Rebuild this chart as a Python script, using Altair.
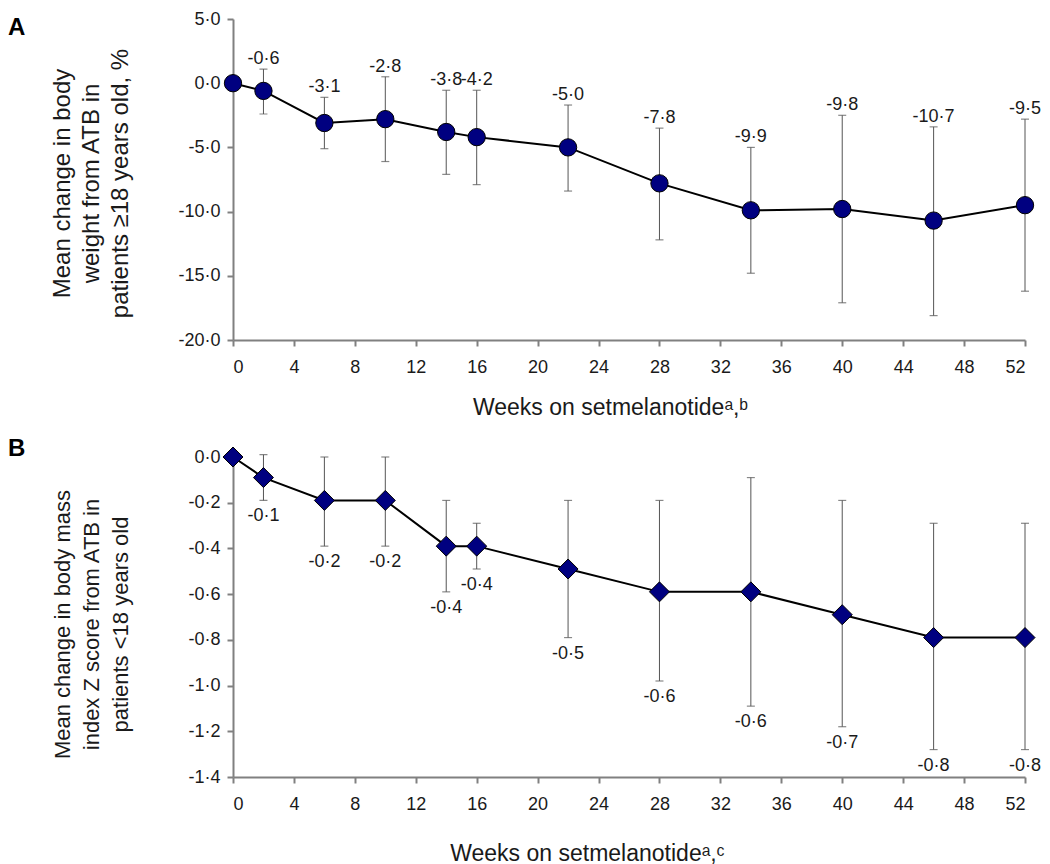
import altair as alt
import pandas as pd

# ---------------- data ----------------
weeks = [0, 2, 6, 10, 14, 16, 22, 28, 34, 40, 46, 52]

# Panel A: mean % change in body weight (patients >=18 y)
a_mean = [0.0, -0.6, -3.1, -2.8, -3.8, -4.2, -5.0, -7.8, -9.9, -9.8, -10.7, -9.5]
a_upper = [None, 1.1, -1.1, 0.5, -0.55, -0.55, -1.7, -3.5, -5.0, -2.5, -3.4, -2.8]
a_lower = [None, -2.4, -5.1, -6.1, -7.1, -7.9, -8.4, -12.2, -14.8, -17.1, -18.1, -16.2]
a_labels = ["", "-0·6", "-3·1", "-2·8", "-3·8", "-4·2", "-5·0", "-7·8", "-9·9", "-9·8", "-10·7", "-9·5"]

# Panel B: mean change in BMI Z score (patients <18 y)
b_mean = [0.0, -0.09, -0.19, -0.19, -0.39, -0.39, -0.49, -0.59, -0.59, -0.69, -0.79, -0.79]
b_upper = [None, 0.01, 0.0, 0.0, -0.19, -0.29, -0.19, -0.19, -0.09, -0.19, -0.29, -0.29]
b_lower = [None, -0.19, -0.39, -0.39, -0.59, -0.49, -0.79, -0.98, -1.09, -1.18, -1.28, -1.28]
b_labels = ["", "-0·1", "-0·2", "-0·2", "-0·4", "-0·4", "-0·5", "-0·6", "-0·6", "-0·7", "-0·8", "-0·8"]

x_ticks = list(range(0, 53, 4))
a_y_ticks = [5, 0, -5, -10, -15, -20]
b_y_ticks = [0, -0.2, -0.4, -0.6, -0.8, -1.0, -1.2, -1.4]

panel_letters = ["A", "B"]
a_y_title = ["Mean change in body", "weight from ATB in", "patients ≥18 years old, %"]
b_y_title = ["Mean change in body mass", "index Z score from ATB in", "patients <18 years old"]
a_x_title = "Weeks on setmelanotideᵃ,ᵇ"
b_x_title = "Weeks on setmelanotideᵃ,ᶜ"

FONT = "Liberation Sans"
TXT = "#1a1a1a"
NAVY = "#000080"
ERR = "#555555"

W = 792
label_expr = "(datum.value < 0 ? '-' : '') + replace(format(abs(datum.value), '.1f'), '.', '·')"


def panel(mean, upper, lower, labels, letter, y_domain, y_ticks, y_title, y_title_size,
          x_title, x_title_x, x_title_y, y_title_y, height, shape, size,
          label_above, letter_y):
    df = pd.DataFrame({"week": weeks, "mean": mean, "hi": upper, "lo": lower, "lab": labels})
    x = alt.X("week:Q", scale=alt.Scale(domain=[0, 52], nice=False, zero=False),
              axis=alt.Axis(values=x_ticks, format="d", title=x_title,
                            titleX=x_title_x, titleY=x_title_y,
                            titleBaseline="alphabetic", titleAlign="center"))
    yscale = alt.Scale(domain=y_domain, nice=False, zero=False)
    y = alt.Y("mean:Q", scale=yscale,
              axis=alt.Axis(values=y_ticks, labelExpr=label_expr, title=y_title,
                            titleX=-159, titleY=y_title_y, titleAngle=-90,
                            titleBaseline="bottom", titleAlign="center",
                            titleLineHeight=29, titleFontSize=y_title_size))
    base = alt.Chart(df)
    err = base.transform_filter("datum.hi != null")
    rules = err.mark_rule(color=ERR, strokeWidth=1).encode(
        x="week:Q", y=alt.Y("hi:Q", scale=yscale), y2="lo:Q")
    cap_hi = err.mark_tick(color=ERR, orient="horizontal", size=8, thickness=1.2).encode(
        x="week:Q", y=alt.Y("hi:Q", scale=yscale))
    cap_lo = err.mark_tick(color=ERR, orient="horizontal", size=8, thickness=1.2).encode(
        x="week:Q", y=alt.Y("lo:Q", scale=yscale))
    line = base.mark_line(color="black", strokeWidth=2).encode(x=x, y=y)
    pts = base.mark_point(shape=shape, filled=True, size=size, color=NAVY,
                          stroke="black", strokeWidth=1, opacity=1).encode(x="week:Q", y="mean:Q")
    lab_field = "hi:Q" if label_above else "lo:Q"
    texts = err.mark_text(fontSize=18, font=FONT, color=TXT,
                          baseline="alphabetic" if label_above else "top",
                          dy=-5 if label_above else 7).encode(
        x="week:Q", y=alt.Y(lab_field, scale=yscale), text="lab:N")
    letter_df = pd.DataFrame({"letter": [letter]})
    let = alt.Chart(letter_df).mark_text(align="left", baseline="alphabetic", fontSize=24,
                                         fontWeight="bold", font=FONT, color="black").encode(
        x=alt.value(-225), y=alt.value(letter_y), text="letter:N")
    return alt.layer(line, rules, cap_hi, cap_lo, pts, texts, let).properties(width=W, height=height)


chart_a = panel(a_mean, a_upper, a_lower, a_labels, panel_letters[0], [-20, 5], a_y_ticks,
                a_y_title, 24, a_x_title, 377, 74, 164, 321, "circle", 300, True, 16)
chart_b = panel(b_mean, b_upper, b_lower, b_labels, panel_letters[1], [-1.4, 0], b_y_ticks,
                b_y_title, 22, b_x_title, 354, 83, 167, 320, "diamond", 400, False, -1)

chart = alt.vconcat(chart_a, chart_b, spacing=117, bounds="flush").properties(
    padding={"left": 0, "top": 2, "right": 0, "bottom": 0}
).configure_view(stroke=None).configure_axis(
    grid=False, domainColor="#808080", domainWidth=2, tickColor="#808080", tickWidth=2,
    tickSize=6, labelFont=FONT, labelFontSize=18, labelColor=TXT, labelPadding=7,
    titleFont=FONT, titleFontSize=23, titleFontWeight="normal", titleColor=TXT
).configure_axisX(labelPadding=12)

chart.save("out.html", embed_options={"renderer": "svg", "actions": False})
